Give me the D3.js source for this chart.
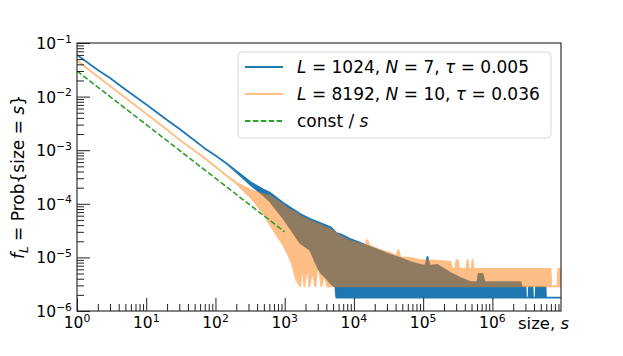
<!DOCTYPE html>
<html>
<head>
<meta charset="utf-8">
<script src="https://d3js.org/d3.v7.min.js"></script>
<style>
  body { margin: 0; background: #fff; }
  text { font-family: "DejaVu Sans", sans-serif; fill: #000; }
</style>
</head>
<body>
<script>
// --- data: size s, upper / lower envelope of f_L ---
var blueS  = [1, 2, 3, 5, 10, 20, 30, 50, 70, 100, 140, 199, 318, 490, 618, 954, 1680, 2345, 2769, 3272, 3863, 4562, 5393, 5573, 6368, 8879, 12384, 17275, 24096, 33611, 46885, 65400, 91229, 107900, 115400, 123400, 161200, 247600, 346200, 483300, 609800, 630900, 721000, 770600, 2.555e6, 2.641e6, 3.018e6, 3.047e6, 3.336e6, 3.367e6, 3.81e6, 3.848e6, 4.209e6, 4.254e6, 5.873e6, 5.93e6, 9.8e6];
var blueHi = [0.0597, 0.0313, 0.0222, 0.01357, 0.00713, 0.00366, 0.00252, 0.00152, 0.00108, 7.96e-4, 5.85e-4, 4.09e-4, 2.55e-4, 1.85e-4, 1.6e-4, 1.035e-4, 6.45e-5, 5.2e-5, 4.78e-5, 4.38e-5, 4.02e-5, 3.69e-5, 2.98e-5, 2.85e-5, 2.73e-5, 2.2e-5, 1.86e-5, 1.56e-5, 1.32e-5, 1.11e-5, 9.75e-6, 8.2e-6, 7.22e-6, 6.92e-6, 1.02e-5, 6.92e-6, 7.22e-6, 5.12e-6, 4.13e-6, 3.47e-6, 3.47e-6, 4.9e-6, 4.9e-6, 3.47e-6, 3.47e-6, 2.76e-6, 2.76e-6, 1.78e-6, 1.78e-6, 2.76e-6, 2.76e-6, 1.78e-6, 1.78e-6, 2.76e-6, 2.76e-6, 1.78e-6, 1.78e-6];
var blueLo = [0.0597, 0.0313, 0.0222, 0.01357, 0.00713, 0.00366, 0.00252, 0.00152, 0.00108, 7.96e-4, 5.85e-4, 3.95e-4, 2.29e-4, 1.45e-4, 1.10e-4, 5.37e-5, 1.86e-5, 1.37e-5, 8.2e-6, 5.34e-6, 4.31e-6, 3.33e-6, 2.8e-6, 1.78e-6, 1.78e-6, 1.78e-6, 1.78e-6, 1.78e-6, 1.78e-6, 1.78e-6, 1.78e-6, 1.78e-6, 1.78e-6, 1.78e-6, 1.78e-6, 1.78e-6, 1.78e-6, 1.78e-6, 1.78e-6, 1.78e-6, 1.78e-6, 1.78e-6, 1.78e-6, 1.78e-6, 1.78e-6, 1.78e-6, 1.78e-6, 1.78e-6, 1.78e-6, 1.78e-6, 1.78e-6, 1.78e-6, 1.78e-6, 1.78e-6, 1.78e-6, 1.78e-6, 1.78e-6];

var orangeS  = [1, 2, 3, 5, 10, 20, 30, 50, 70, 100, 140, 199, 318, 490, 618, 954, 1127, 1288, 1470, 1680, 1795, 1920, 2122, 2268, 2507, 2769, 3060, 3382, 3737, 4128, 4562, 6368, 8879, 12384, 14500, 15640, 16800, 17275, 24096, 33611, 41000, 43950, 46885, 65400, 91229, 177500, 247600, 265400, 290000, 303300, 316000, 330000, 420000, 437200, 455000, 500000, 516600, 535000, 6.937e6, 7.05e6, 8.757e6, 8.91e6, 9.8e6];
var orangeHi = [0.047, 0.0235, 0.0158, 0.0095, 0.0048, 0.00241, 0.00158, 9.75e-4, 7.1e-4, 4.92e-4, 3.45e-4, 2.49e-4, 1.81e-4, 1.52e-4, 1.40e-4, 9.5e-5, 8.0e-5, 7.35e-5, 6.73e-5, 5.92e-5, 5.68e-5, 5.45e-5, 5.1e-5, 4.9e-5, 4.6e-5, 4.38e-5, 4.2e-5, 3.95e-5, 3.69e-5, 3.54e-5, 3.39e-5, 2.51e-5, 2.02e-5, 1.78e-5, 1.7e-5, 2.11e-5, 1.66e-5, 1.63e-5, 1.37e-5, 1.21e-5, 1.05e-5, 1.37e-5, 1.0e-5, 9.75e-6, 8.93e-6, 8.57e-6, 8.2e-6, 6.08e-6, 6.08e-6, 8.93e-6, 8.93e-6, 6.08e-6, 6.08e-6, 8.93e-6, 6.08e-6, 6.08e-6, 8.93e-6, 6.08e-6, 6.08e-6, 2.88e-6, 2.88e-6, 6.08e-6, 6.08e-6];
var orangeLo = [0.047, 0.0235, 0.0158, 0.0095, 0.0048, 0.00241, 0.00158, 9.75e-4, 7.1e-4, 4.92e-4, 3.45e-4, 2.40e-4, 1.34e-4, 6.73e-5, 4.02e-5, 1.70e-5, 1.11e-5, 7.22e-6, 3.79e-6, 2.88e-6, 8.2e-6, 2.88e-6, 7.22e-6, 2.88e-6, 5.82e-6, 2.88e-6, 8.93e-6, 2.88e-6, 4.7e-6, 2.88e-6, 2.88e-6, 2.88e-6, 2.88e-6, 2.88e-6, 2.88e-6, 2.88e-6, 2.88e-6, 2.88e-6, 2.88e-6, 2.88e-6, 2.88e-6, 2.88e-6, 2.88e-6, 2.88e-6, 2.88e-6, 2.88e-6, 2.88e-6, 2.88e-6, 2.88e-6, 2.88e-6, 2.88e-6, 2.88e-6, 2.88e-6, 2.88e-6, 2.88e-6, 2.88e-6, 2.88e-6, 2.88e-6, 2.88e-6, 2.88e-6, 2.88e-6, 2.88e-6, 2.88e-6];

// const / s reference line
var constS = [1, 1000];
var constF = [0.03, 3e-5];

var xMajor = [1, 10, 100, 1000, 1e4, 1e5, 1e6];
var xExp   = ["0", "1", "2", "3", "4", "5", "6"];
var yMajor = [1e-6, 1e-5, 1e-4, 1e-3, 1e-2, 1e-1];
var yExp   = ["\u22126", "\u22125", "\u22124", "\u22123", "\u22122", "\u22121"];

var w = 623, h = 356;
var padL = 77, padR = 561, padT = 43, padB = 311;

var svg = d3.select("body").append("svg")
  .attr("width", w)
  .attr("height", h);

var x = d3.scaleLog().domain([1, 9.8e6]).range([padL, padR]);
var y = d3.scaleLog().domain([1e-6, 1e-1]).range([padB, padT]);

svg.append("clipPath").attr("id", "plotclip")
  .append("rect")
  .attr("x", padL).attr("y", padT)
  .attr("width", padR - padL).attr("height", padB - padT);

var plot = svg.append("g").attr("clip-path", "url(#plotclip)");

var band = d3.area()
  .x(function(d) { return x(d[0]); })
  .y0(function(d) { return y(d[2]); })
  .y1(function(d) { return y(d[1]); });

// blue: L = 1024
plot.append("path")
  .datum(d3.zip(blueS, blueHi, blueLo))
  .attr("d", band)
  .attr("fill", "#1f77b4")
  .attr("stroke", "#1f77b4")
  .attr("stroke-width", 1.8)
  .attr("stroke-linejoin", "round");

// orange: L = 8192, drawn at alpha 0.5
plot.append("g").attr("opacity", 0.5)
  .append("path")
  .datum(d3.zip(orangeS, orangeHi, orangeLo))
  .attr("d", band)
  .attr("fill", "#ff7f0e")
  .attr("stroke", "#ff7f0e")
  .attr("stroke-width", 1.8)
  .attr("stroke-linejoin", "round");

// const / s
plot.append("path")
  .datum(d3.zip(constS, constF))
  .attr("d", d3.line().x(function(d) { return x(d[0]); }).y(function(d) { return y(d[1]); }))
  .attr("fill", "none")
  .attr("stroke", "#2ca02c")
  .attr("stroke-width", 1.6)
  .attr("stroke-dasharray", "5.5,2.4");

// ticks (inward), minor and major
function isPow10(v) { return Math.abs(Math.log10(v) - Math.round(Math.log10(v))) < 1e-9; }
var xMinor = x.ticks().filter(function(v) { return !isPow10(v); });
var yMinor = y.ticks().filter(function(v) { return !isPow10(v); });

function noDomain(g) { g.select(".domain").remove(); g.selectAll("line").attr("stroke", "#222"); }

svg.append("g").attr("transform", "translate(0," + padB + ")")
  .call(d3.axisBottom(x).tickValues(xMinor).tickSize(-7).tickFormat(""))
  .call(noDomain);
svg.append("g").attr("transform", "translate(0," + padB + ")")
  .call(d3.axisBottom(x).tickValues(xMajor).tickSize(-13).tickFormat(""))
  .call(noDomain);
svg.append("g").attr("transform", "translate(" + padL + ",0)")
  .call(d3.axisLeft(y).tickValues(yMinor).tickSize(-7).tickFormat(""))
  .call(noDomain);
svg.append("g").attr("transform", "translate(" + padL + ",0)")
  .call(d3.axisLeft(y).tickValues(yMajor).tickSize(-13).tickFormat(""))
  .call(noDomain);

// spines
svg.append("rect")
  .attr("x", padL).attr("y", padT)
  .attr("width", padR - padL).attr("height", padB - padT)
  .attr("fill", "none").attr("stroke", "#222").attr("stroke-width", 1.1);

// tick labels 10^k
xMajor.forEach(function(v, i) {
  var t = svg.append("text")
    .attr("x", x(v)).attr("y", 328)
    .attr("text-anchor", "middle")
    .style("font-size", "15.5px");
  t.append("tspan").text("10");
  t.append("tspan").attr("dy", "-0.6em").style("font-size", "10.8px").text(xExp[i]);
});
yMajor.forEach(function(v, i) {
  var t = svg.append("text")
    .attr("x", 72).attr("y", y(v) + 6)
    .attr("text-anchor", "end")
    .style("font-size", "15.5px");
  t.append("tspan").text("10");
  t.append("tspan").attr("dy", "-0.6em").style("font-size", "10.8px").text(yExp[i]);
});

// axis labels
var xl = svg.append("text")
  .attr("x", 518).attr("y", 329)
  .style("font-size", "16.5px");
xl.append("tspan").text("size, ");
xl.append("tspan").style("font-style", "italic").text("s");

var yl = svg.append("text")
  .attr("transform", "translate(24," + ((padT + padB) / 2) + ") rotate(-90)")
  .attr("text-anchor", "middle")
  .style("font-size", "17px");
yl.append("tspan").style("font-style", "italic").text("f");
yl.append("tspan").style("font-style", "italic").style("font-size", "12px").attr("dy", "4").text("L");
yl.append("tspan").attr("dy", "-4").text(" = Prob{size = ");
yl.append("tspan").style("font-style", "italic").text("s");
yl.append("tspan").text("}");

// legend
var legendParts = [
  [["L", true], [" = 1024, ", false], ["N", true], [" = 7, ", false], ["\u03c4", true], [" = 0.005", false]],
  [["L", true], [" = 8192, ", false], ["N", true], [" = 10, ", false], ["\u03c4", true], [" = 0.036", false]],
  [["const / ", false], ["s", true]]
];
var legendColor = ["#1f77b4", "#ff7f0e", "#2ca02c"];
var legendOpacity = [1, 0.5, 1];
var legendDash = [null, null, "5.5,2.4"];

var lg = svg.append("g");
lg.append("rect")
  .attr("x", 238).attr("y", 52)
  .attr("width", 313).attr("height", 86)
  .attr("rx", 4)
  .attr("fill", "#fff").attr("fill-opacity", 0.8)
  .attr("stroke", "#d6d6d6").attr("stroke-width", 1);

legendParts.forEach(function(parts, i) {
  var cy = 67 + i * 27;
  lg.append("line")
    .attr("x1", 245).attr("x2", 283)
    .attr("y1", cy).attr("y2", cy)
    .attr("stroke", legendColor[i])
    .attr("stroke-width", 1.8)
    .attr("stroke-opacity", legendOpacity[i])
    .attr("stroke-dasharray", legendDash[i]);
  var t = lg.append("text")
    .attr("x", 297).attr("y", cy + 6)
    .style("font-size", "17px");
  parts.forEach(function(p) {
    t.append("tspan").style("font-style", p[1] ? "italic" : "normal").text(p[0]);
  });
});
</script>
</body>
</html>
